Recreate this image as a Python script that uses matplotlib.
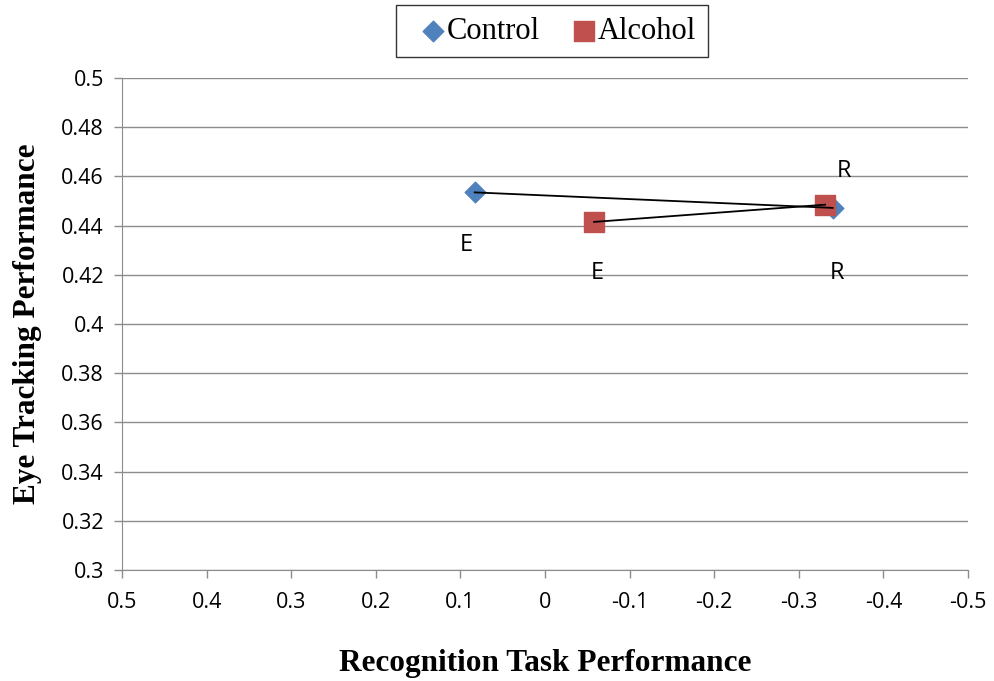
import matplotlib.pyplot as plt
import numpy as np

# points: E then R for each group
control_x = [0.083, -0.340]
control_y = [0.4535, 0.4472]
alcohol_x = [-0.058, -0.331]
alcohol_y = [0.4415, 0.4485]
point_labels = ["E", "R"]

x_ticks = np.round(np.arange(0.5, -0.51, -0.1), 1)
y_ticks = np.round(np.arange(0.30, 0.501, 0.02), 2)

fig = plt.figure(figsize=(9.94, 6.81), dpi=100)
ax = fig.add_axes([122/994, 1-570/681, 846/994, 492/681])

# connecting lines
ax.plot(control_x, control_y, color="black", lw=1.3, zorder=3)
ax.plot(alcohol_x, alcohol_y, color="black", lw=1.3, zorder=3)
ax.scatter(control_x, control_y, marker="D", s=110, color="#4F81BD", zorder=2, label="Control")
ax.scatter(alcohol_x, alcohol_y, marker="s", s=200, color="#C0504D", zorder=2, label="Alcohol")

# point labels (offsets in points)
lab_font = dict(fontsize=17, family="Open Sans", color="black")
ax.annotate(point_labels[0], (control_x[0], control_y[0]), xytext=(-6, -38), textcoords="offset points", ha="center", va="center", **lab_font)
ax.annotate(point_labels[1], (control_x[1], control_y[1]), xytext=(3, -47), textcoords="offset points", ha="center", va="center", **lab_font)
ax.annotate(point_labels[0], (alcohol_x[0], alcohol_y[0]), xytext=(2, -37), textcoords="offset points", ha="center", va="center", **lab_font)
ax.annotate(point_labels[1], (alcohol_x[1], alcohol_y[1]), xytext=(14, 24), textcoords="offset points", ha="center", va="center", **lab_font)

ax.set_xlim(0.5, -0.5)
ax.set_ylim(0.3, 0.5)
ax.set_xticks(x_ticks)
ax.set_xticklabels([f"{v:g}" for v in x_ticks], family="Open Sans", fontsize=15.5)
ax.set_yticks(y_ticks)
ax.set_yticklabels([f"{v:g}" for v in y_ticks], family="Open Sans", fontsize=15.5)
ax.yaxis.grid(True, color="#8c8c8c", lw=1)
ax.set_axisbelow(True)
for s in ["top", "right"]:
    ax.spines[s].set_visible(False)
for s in ["left", "bottom"]:
    ax.spines[s].set_color("#8c8c8c")
ax.tick_params(axis="both", color="#8c8c8c", length=6, width=1)
ax.tick_params(axis="x", pad=10)
ax.tick_params(axis="y", pad=7)

ax.set_xlabel("Recognition Task Performance", family="Liberation Serif", fontweight="bold", fontsize=22.5, labelpad=26)
ax.set_ylabel("Eye Tracking Performance", family="Liberation Serif", fontweight="bold", fontsize=22.5, labelpad=14)

leg = ax.legend(loc="upper center", bbox_to_anchor=(0.508, 1.148), ncol=2, frameon=True, fancybox=False,
                edgecolor="black", prop={"family": "Liberation Serif", "size": 22},
                handletextpad=-0.4, columnspacing=0.6, borderpad=0.38, borderaxespad=0, scatterpoints=1,
                handlelength=1.7)
leg.get_frame().set_linewidth(1)

fig.savefig("out.png", dpi=100)
